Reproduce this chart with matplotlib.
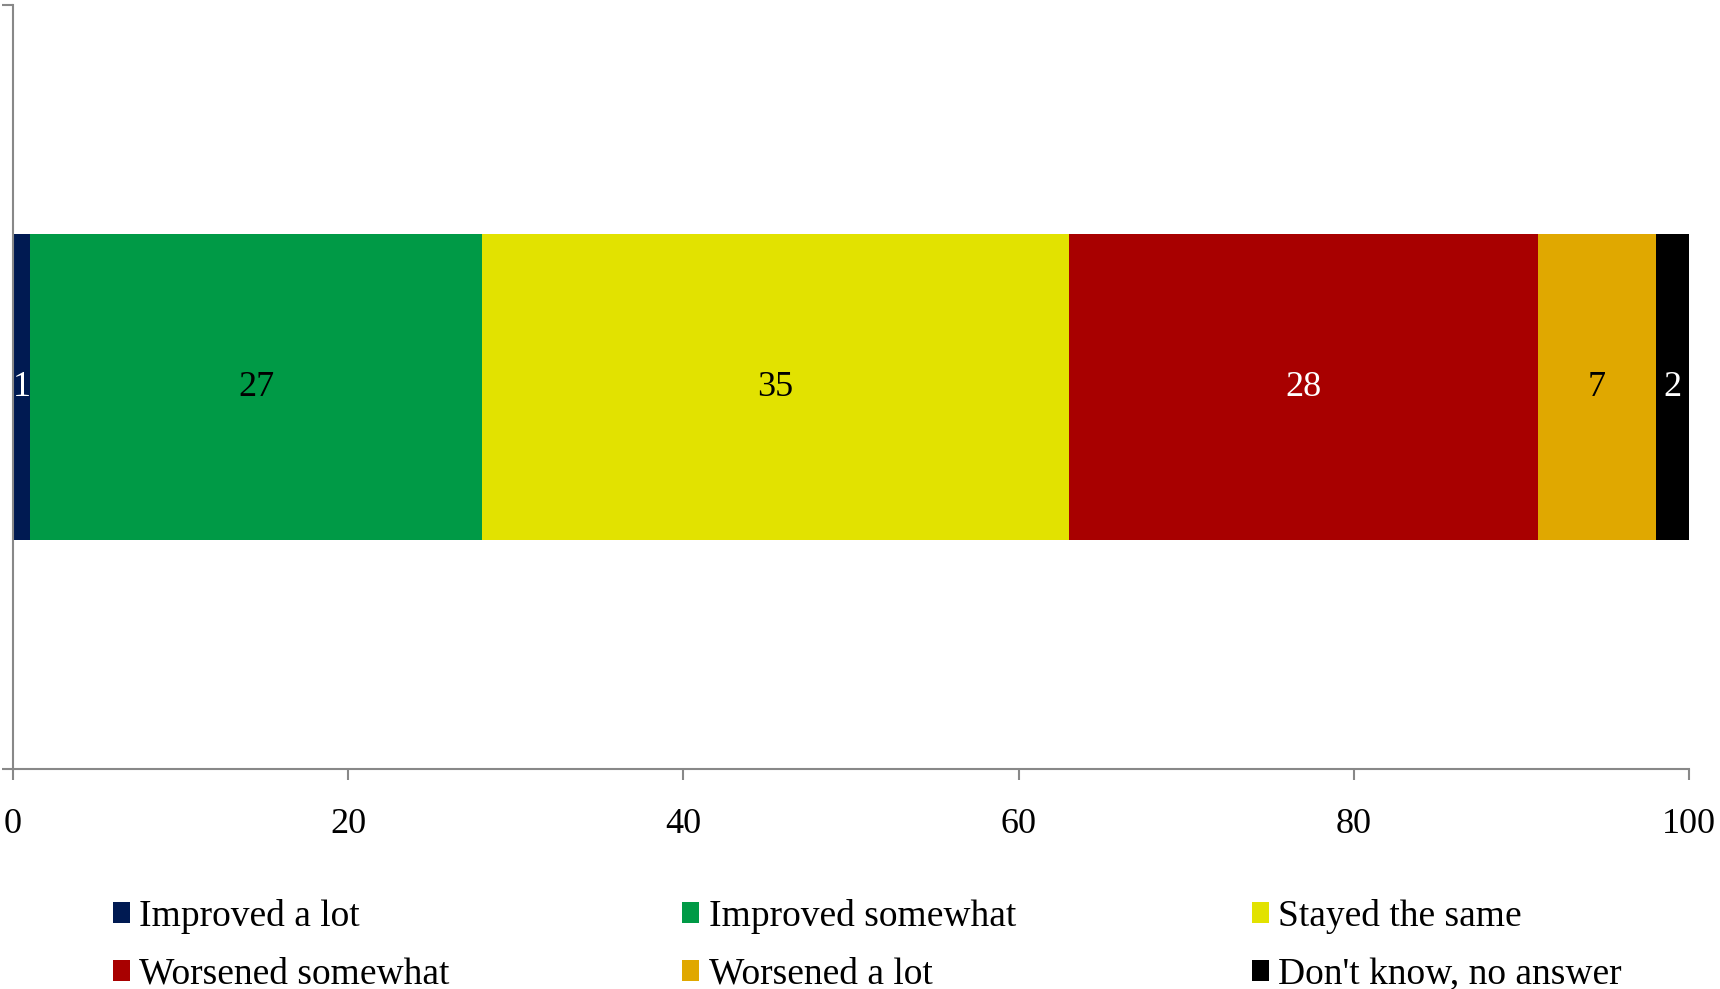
import numpy as np
import matplotlib
matplotlib.use('Agg')
import matplotlib.pyplot as plt

categories = ['Improved a lot', 'Improved somewhat', 'Stayed the same',
              'Worsened somewhat', 'Worsened a lot', "Don't know, no answer"]
values = [1, 27, 35, 28, 7, 2]
colors = ['#001A52', '#009A46', '#E2E200', '#A80000', '#E0A800', '#000000']
text_colors = ['white', 'black', 'black', 'white', 'black', 'white']
xticks = [0, 20, 40, 60, 80, 100]

plt.rcParams['font.family'] = ['Liberation Serif', 'DejaVu Serif']
plt.rcParams['font.size'] = 26

fig = plt.figure(figsize=(17.2, 9.89), dpi=100)
ax = fig.add_axes([0.0076, 0.2224, 0.9744, 0.7725])

left = 0
handles = []
for cat, v, c, tc in zip(categories, values, colors, text_colors):
    b = ax.barh(0, v, left=left, height=0.4, color=c, label=cat)
    handles.append(b)
    ax.text(left + v / 2, 0, str(v), ha='center', va='center', color=tc, fontsize=26)
    left += v

ax.set_xlim(0, 100)
ax.set_ylim(-0.5, 0.5)
ax.set_xticks(xticks)
ax.set_yticks([-0.5, 0.5])
ax.set_yticklabels([])
for s in ['top', 'right']:
    ax.spines[s].set_visible(False)
for s in ['left', 'bottom']:
    ax.spines[s].set_color('#888888')
    ax.spines[s].set_linewidth(1.5)
ax.tick_params(axis='x', colors='#888888', length=8, width=1.5, pad=20, labelcolor='black', labelsize=26)
ax.tick_params(axis='y', colors='#888888', length=8, width=1.5)

# legend: 3 columns, filled row by row
col_x = [0.0657, 0.3967, 0.728]
for i, x in enumerate(col_x):
    idx = [i, i + 3]
    leg = fig.legend(handles=[handles[j] for j in idx], labels=[categories[j] for j in idx],
                     loc='center left', bbox_to_anchor=(x, 0.0442), frameon=False,
                     handlelength=0.45, handleheight=0.5, handletextpad=0.25,
                     labelspacing=0.63, fontsize=27, borderpad=0.0, borderaxespad=0.0)

fig.savefig('out.png', dpi=100)
